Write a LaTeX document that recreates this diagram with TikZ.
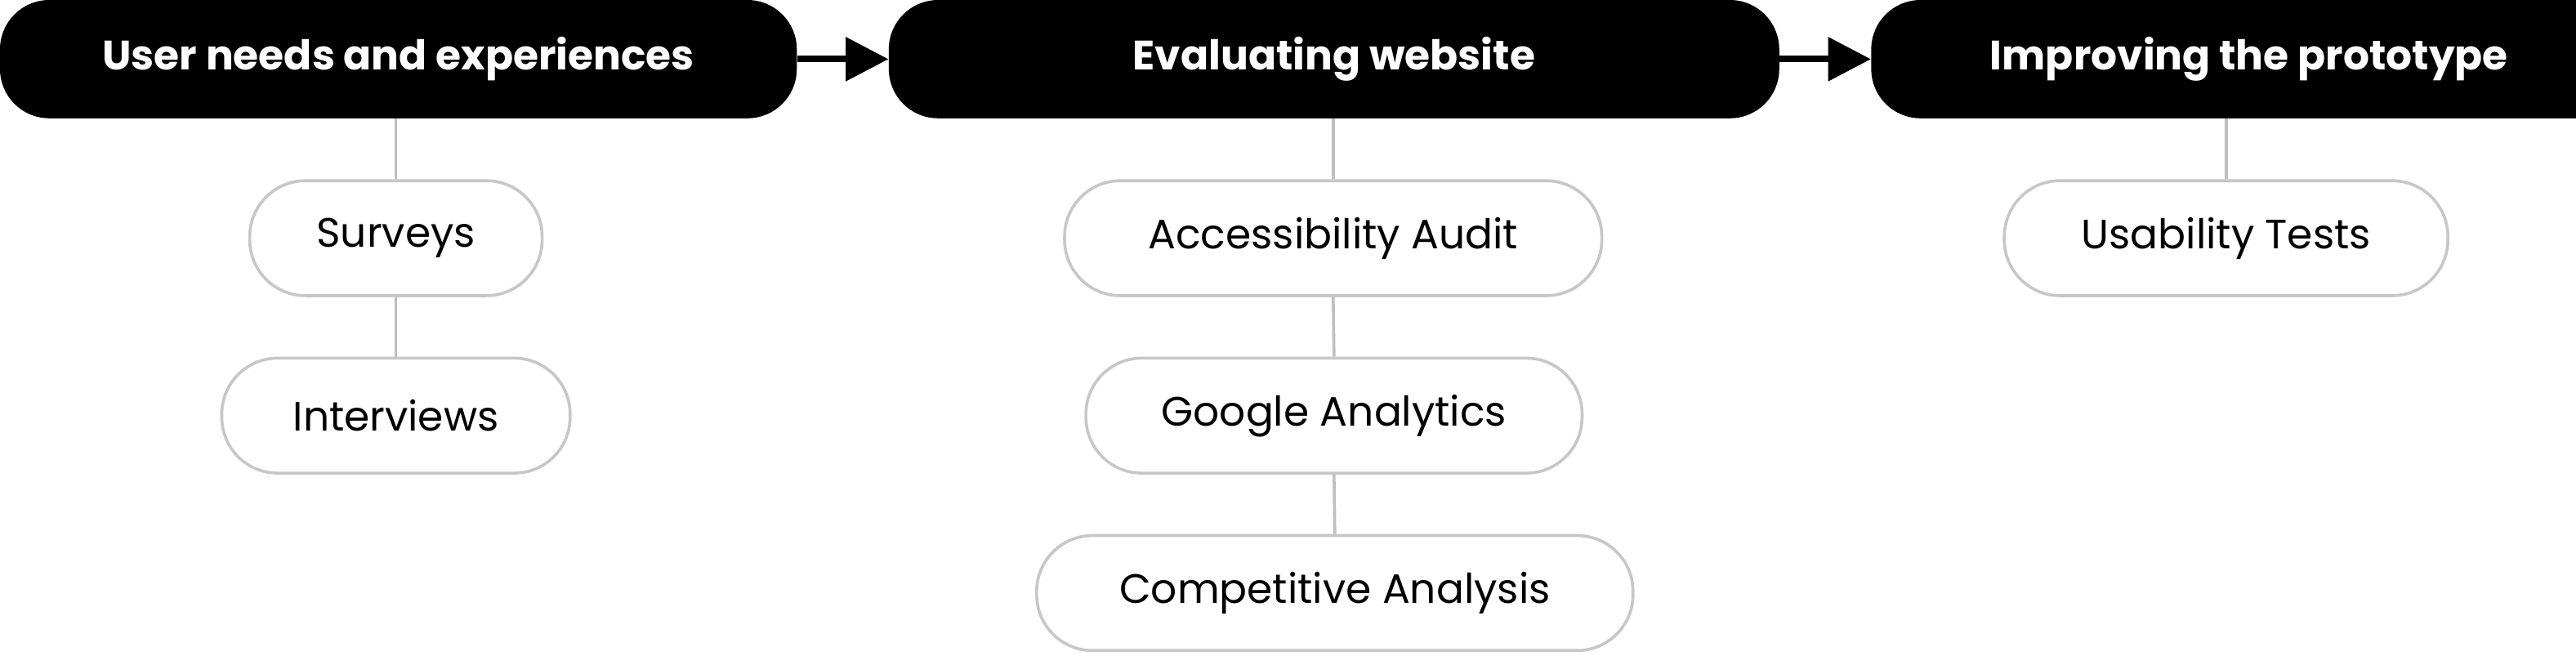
\documentclass[tikz,border=0pt]{standalone}
\usepackage{fontspec}
\setmainfont{Poppins}
\usetikzlibrary{arrows.meta}
\begin{document}
\begin{tikzpicture}[x=1pt,y=-1pt,
 top/.style={fill=black,text=white,rounded corners=30pt,minimum height=72pt,inner sep=0pt,font=\fontsize{25}{30}\selectfont\bfseries},
 sub/.style={draw=black!22,line width=1.8pt,fill=white,rounded corners=34pt,minimum height=70pt,inner sep=0pt,font=\fontsize{25}{30}\selectfont},
 link/.style={draw=black!25,line width=1.8pt},
 flow/.style={line width=4pt,-{Triangle[length=26pt,width=26pt]}}]
\useasboundingbox (0,0) rectangle (1568,399);
\node[top,minimum width=485pt] (t1) at (242.5,36) {User needs and experiences};
\node[top,minimum width=542pt] (t2) at (812,36) {Evaluating website};
\node[top,minimum width=460pt] (t3) at (1369,36) {Improving the prototype};
\node[sub,minimum width=178pt] (s1) at (241,145) {Surveys};
\node[sub,minimum width=212pt] (s2) at (241,253) {Interviews};
\node[sub,minimum width=327pt] (e1) at (811.5,145) {Accessibility Audit};
\node[sub,minimum width=302pt] (e2) at (812,253) {Google Analytics};
\node[sub,minimum width=363pt] (e3) at (812.5,361) {Competitive Analysis};
\node[sub,minimum width=270pt] (u1) at (1355,145) {Usability Tests};
\draw[link] (s1.north) -- (s1.north |- t1.south);
\draw[link] (s2.north) -- (s1.south);
\draw[link] (e1.north) -- (e1.north |- t2.south);
\draw[link] (e2.north) -- (e1.south);
\draw[link] (e3.north) -- (e2.south);
\draw[link] (u1.north) -- (u1.north |- t3.south);
\draw[flow] (t1.east) -- (t2.west);
\draw[flow] (t2.east) -- (t3.west);
\end{tikzpicture}
\end{document}
